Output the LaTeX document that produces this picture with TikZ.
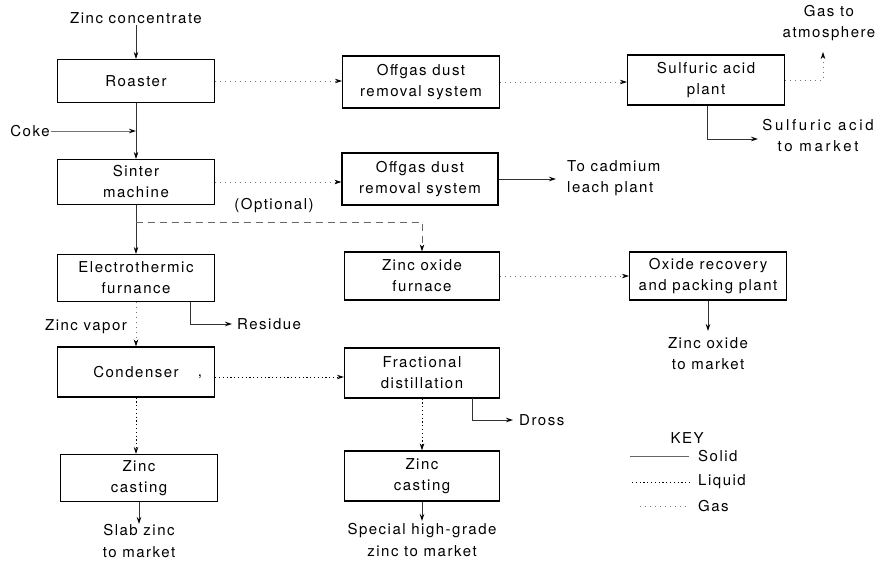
\documentclass[tikz,border=0pt]{standalone}
\usepackage{fontspec}
\setmainfont[LetterSpace=10]{TeX Gyre Heros}
\usetikzlibrary{arrows.meta}
\begin{document}
\begin{tikzpicture}[x=1pt,y=-1pt,
  font=\fontsize{15}{21}\selectfont,
  >={Stealth[length=7pt,width=4.5pt,color=black]},
  unit/.style={draw, line width=1.2pt, minimum width=157pt, minimum height=48pt, align=center, inner sep=0pt},
  lbl/.style={align=center, inner sep=1pt},
  solidflow/.style={->, line width=0.8pt, draw=black!80},
  liquidflow/.style={->, line width=1pt, dash pattern=on 1.2pt off 2.6pt},
  gasflow/.style={->, line width=0.7pt, draw=black!55, dash pattern=on 1pt off 4pt},
  optflow/.style={->, line width=0.8pt, draw=black!60, dash pattern=on 7pt off 5pt},
  keysolid/.style={line width=0.8pt, draw=black!60},
  keyliquid/.style={line width=1pt, dash pattern=on 1.2pt off 2.6pt},
  keygas/.style={line width=0.7pt, draw=black!55, dash pattern=on 1pt off 4pt}]
\useasboundingbox (0,0) rectangle (877,565);

% process units
\node[unit, minimum height=43pt] (roaster) at (136,81) {Roaster};
\node[unit, minimum height=52pt] (off1) at (421,82) {Offgas dust\\removal system};
\node[unit, minimum height=50pt] (sulf) at (706,80) {Sulfuric acid\\plant};
\node[unit, minimum height=45pt] (sinter) at (136,182) {Sinter\\machine};
\node[unit, minimum height=52pt, minimum width=156pt] (off2) at (420,179) {Offgas dust\\removal system};
\node[unit, minimum height=47pt] (elec) at (136,278) {Electrothermic\\furnance};
\node[unit, minimum width=155pt] (zof) at (422,276) {Zinc oxide\\furnace};
\node[unit] (oxrec) at (708,276) {Oxide recovery\\and packing plant};
\node[unit, minimum height=50pt] (cond) at (136,372) {Condenser};
\node[unit, minimum height=50pt, minimum width=155pt] (frac) at (422,373) {Fractional\\distillation};
\node[unit, minimum height=47pt] (cast1) at (139,478) {Zinc\\casting};
\node[unit, minimum height=50pt, minimum width=155pt] (cast2) at (422,476) {Zinc\\casting};
\node[inner sep=0pt] (speck) at (200,377) {,};

% feeds and products
\node[lbl] (conc) at (136,18) {Zinc concentrate};
\node[lbl] (coke) at (30,131) {Coke};
\node[lbl] (atm) at (829,23) {Gas to\\atmosphere};
\node[lbl, font=\fontsize{15}{21}\selectfont\addfontfeatures{LetterSpace=18}] (acid) at (818,136) {Sulfuric acid\\to market};
\node[lbl, anchor=west, align=left] (cad) at (566,178) {To cadmium\\leach plant};
\node[lbl] (opt) at (274,206) {(Optional)};
\node[lbl] (zox) at (708,354) {Zinc oxide\\to market};
\node[lbl] (vapor) at (86,327) {Zinc vapor};
\node[lbl, anchor=west] (resid) at (236,324) {Residue};
\node[lbl, anchor=west] (dross) at (518,420) {Dross};
\node[lbl] (slab) at (139,541) {Slab zinc\\to market};
\node[lbl] (special) at (422,540) {Special high-grade\\zinc to market};

% free ends of connectors
\coordinate (cokeend) at (136,131);
\coordinate (gasturn) at (823,80);
\coordinate (gastop) at (823,52);
\coordinate (acidturn) at (707,139);
\coordinate (acidend) at (758,139);
\coordinate (cadend) at (556,179);
\coordinate (optfork) at (136,222);
\coordinate (optturn) at (422,222);
\coordinate (zoxend) at (708,331);
\coordinate (resstart) at (190,302);
\coordinate (resturn) at (190,324);
\coordinate (resend) at (232,324);
\coordinate (drstart) at (472,398);
\coordinate (drturn) at (472,420);
\coordinate (drend) at (513,420);
\coordinate (slabend) at (139,524);
\coordinate (specend) at (422,521);
\coordinate (liqlevel) at (300,377);

% solid flows
\draw[solidflow] (conc) -- (roaster);
\draw[solidflow] (roaster) -- (sinter);
\draw[solidflow, draw=black!55] (coke) -- (cokeend);
\draw[solidflow] (sulf.south -| acidturn) -- (acidturn) -- (acidend);
\draw[solidflow] (off2) -- (cadend);
\draw[solidflow] (sinter) -- (elec);
\draw[solidflow] (oxrec) -- (zoxend);
\draw[solidflow] (resstart) -- (resturn) -- (resend);
\draw[solidflow] (drstart) -- (drturn) -- (drend);
\draw[solidflow] (cast1) -- (slabend);
\draw[solidflow] (cast2) -- (specend);

% optional solid route
\draw[optflow] (optfork) -- (optturn) -- (zof);

% gas flows
\draw[gasflow] (roaster.east) -- (off1.west |- roaster.east);
\draw[gasflow] (off1) -- (sulf.west |- off1.east);
\draw[gasflow] (sulf.east) -- (gasturn) -- (gastop);
\draw[gasflow] (sinter.east) -- (off2.west |- sinter.east);
\draw[gasflow] (zof) -- (oxrec);
\draw[gasflow] (elec) -- (cond);

% liquid flows
\draw[liquidflow] (cond.east |- liqlevel) -- (frac.west |- liqlevel);
\draw[liquidflow] (cond) -- (cast1.north -| cond);
\draw[liquidflow] (frac) -- (cast2);

% key
\node[lbl] (keyttl) at (687,438) {KEY};
\node[lbl, anchor=west] (ksolid) at (697,456) {Solid};
\node[lbl, anchor=west] (kliquid) at (697,482) {Liquid};
\node[lbl, anchor=west] (kgas) at (697,506) {Gas};
\coordinate (ks0) at (630,456);
\coordinate (ks1) at (689,456);
\coordinate (kl0) at (632,482);
\coordinate (kl1) at (690,482);
\coordinate (kg0) at (640,506);
\coordinate (kg1) at (688,506);
\draw[keysolid] (ks0) -- (ks1);
\draw[keyliquid] (kl0) -- (kl1);
\draw[keygas] (kg0) -- (kg1);
\end{tikzpicture}
\end{document}
